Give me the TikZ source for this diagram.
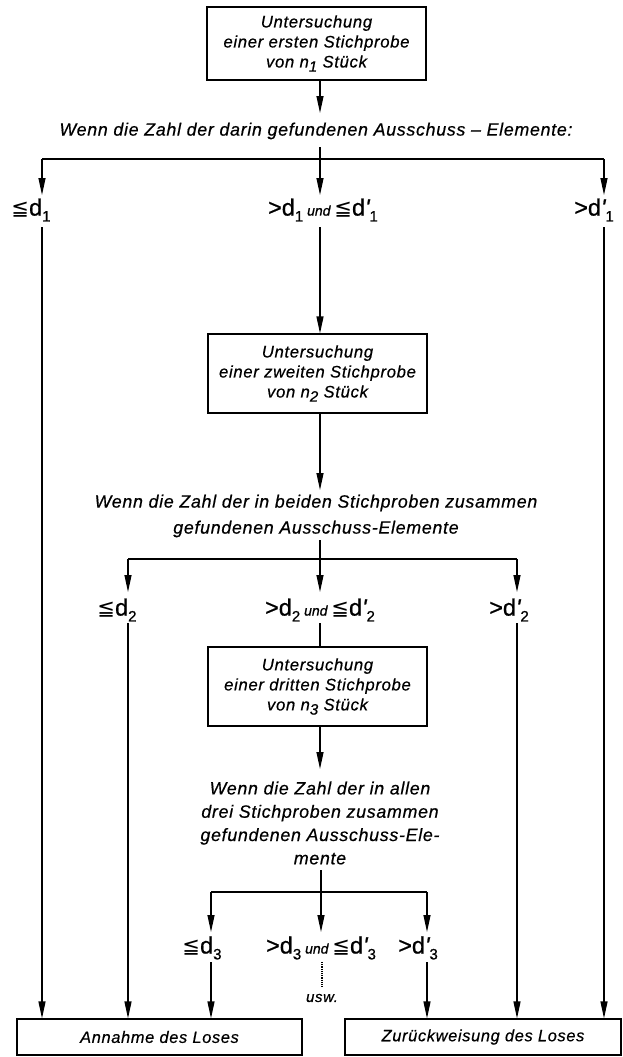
\documentclass[tikz,border=0pt]{standalone}
\usepackage{fontspec}
\usepackage{graphicx}
\setmainfont{Liberation Sans}[LetterSpace=4,FakeBold=0.5]
\newfontfamily\labf{Liberation Sans}[FakeBold=0.8]
\newfontfamily\symf{DejaVu Sans}
\usetikzlibrary{arrows.meta}
\newcommand\mysub[1]{\raisebox{-0.25em}{\fontsize{15}{15}\selectfont\labf #1}}
\newcommand\mysubp[1]{{\itshape\labf '}\raisebox{-0.25em}{\fontsize{15}{15}\selectfont\labf #1}}
\newcommand\myle{{\symf\fontsize{21}{21}\selectfont ≦}}
\newcommand\myund{\,{\fontsize{14}{14}\selectfont\itshape und}\,}
\tikzset{
  ln/.style={line width=1.2pt},
  arr/.style={ln,-{Triangle[length=17pt,width=7pt]}},
  box/.style={draw,line width=1.2pt,minimum width=219pt,minimum height=79pt,inner sep=0pt,align=center,font=\itshape\fontsize{16.7}{20}\selectfont},
  endbox/.style={draw,line width=1.2pt,minimum height=36pt,inner sep=0pt,font=\itshape\fontsize{16.4}{18}\selectfont},
  txt/.style={inner sep=0pt,align=center,font=\itshape\fontsize{17.8}{26}\selectfont},
  lab/.style={inner sep=0pt,font=\labf\fontsize{23.5}{24}\selectfont}
}
\begin{document}
\begin{tikzpicture}[x=1pt,y=-1pt]
\useasboundingbox (0,0) rectangle (623,1057);
% boxes
\node[box,minimum height=73pt] (b1) at (316.5,43.5) {Untersuchung\\einer ersten Stichprobe\\von n\mysub{1} Stück};
\node[box] (b2) at (317.5,373.5) {Untersuchung\\einer zweiten Stichprobe\\von n\mysub{2} Stück};
\node[box] (b3) at (317.5,686.5) {Untersuchung\\einer dritten Stichprobe\\von n\mysub{3} Stück};
\node[endbox,minimum width=285pt] (acc) at (159.5,1037) {Annahme des Loses};
\node[endbox,minimum width=276pt] (rej) at (483,1037) {Zurückweisung des Loses};
% question texts
\node[txt] (t1) at (316,131) {Wenn die Zahl der darin gefundenen Ausschuss – Elemente:};
\node[txt] (t2) at (316,516) {Wenn die Zahl der in beiden Stichproben zusammen\\gefundenen Ausschuss-Elemente};
\node[txt,font=\itshape\fontsize{17.8}{23.3}\selectfont] (t3) at (320,823) {Wenn die Zahl der in allen\\drei Stichproben zusammen\\gefundenen Ausschuss-Ele-\\mente};
% labels
\node[lab] (l1a) at (31,210) {\myle d\mysub{1}};
\node[lab] (l1b) at (323,210) {>d\mysub{1}\myund\myle d\mysubp{1}};
\node[lab] (l1c) at (594,210) {>d\mysubp{1}};
\node[lab] (l2a) at (117,610) {\myle d\mysub{2}};
\node[lab] (l2b) at (320,610) {>d\mysub{2}\myund\myle d\mysubp{2}};
\node[lab] (l2c) at (509,610) {>d\mysubp{2}};
\node[lab] (l3a) at (202,948) {\myle d\mysub{3}};
\node[lab] (l3b) at (321,948) {>d\mysub{3}\myund\myle d\mysubp{3}};
\node[lab] (l3c) at (418,948) {>d\mysubp{3}};
\node[inner sep=0pt,font=\itshape\fontsize{15}{15}\selectfont] (usw) at (322,998) {usw.};
% coordinates
\coordinate (c) at (320,0);
\coordinate (a0) at (320,113);
\coordinate (j1) at (320,147); \coordinate (h1) at (320,159);
\coordinate (h1l) at (42,159); \coordinate (h1r) at (604,159);
\coordinate (a1l) at (42,195); \coordinate (a1c) at (320,195); \coordinate (a1r) at (604,195);
\coordinate (s1l) at (42,227); \coordinate (s1c) at (320,227); \coordinate (s1r) at (604,227);
\coordinate (a2) at (320,490);
\coordinate (j2) at (320,540); \coordinate (h2) at (320,559);
\coordinate (h2l) at (128,559); \coordinate (h2r) at (517,559);
\coordinate (a2l) at (128,592); \coordinate (a2c) at (320,592); \coordinate (a2r) at (517,592);
\coordinate (s2l) at (128,623); \coordinate (s2c) at (320,623); \coordinate (s2r) at (517,623);
\coordinate (a3) at (320,769);
\coordinate (j3) at (321,870); \coordinate (h3) at (321,892);
\coordinate (h3l) at (211,892); \coordinate (h3r) at (427,892);
\coordinate (a3l) at (211,932); \coordinate (a3c) at (321,932); \coordinate (a3r) at (427,932);
\coordinate (s3l) at (211,962); \coordinate (s3c) at (322,962); \coordinate (s3r) at (427,962);
\coordinate (d3) at (322,987);
% level 1
\draw[arr] (b1.south -| c) -- (a0);
\draw[ln] (j1) -- (h1);
\draw[ln] (h1l) -- (h1r);
\draw[arr] (h1l) -- (a1l);
\draw[arr] (h1) -- (a1c);
\draw[arr] (h1r) -- (a1r);
\draw[arr] (s1l) -- (acc.north -| s1l);
\draw[arr] (s1r) -- (rej.north -| s1r);
\draw[arr] (s1c) -- (b2.north -| s1c);
% level 2
\draw[arr] (b2.south -| c) -- (a2);
\draw[ln] (j2) -- (h2);
\draw[ln] (h2l) -- (h2r);
\draw[arr] (h2l) -- (a2l);
\draw[arr] (h2) -- (a2c);
\draw[arr] (h2r) -- (a2r);
\draw[arr] (s2l) -- (acc.north -| s2l);
\draw[arr] (s2r) -- (rej.north -| s2r);
\draw[ln] (s2c) -- (b3.north -| s2c);
% level 3
\draw[arr] (b3.south -| c) -- (a3);
\draw[ln] (j3) -- (h3);
\draw[ln] (h3l) -- (h3r);
\draw[arr] (h3l) -- (a3l);
\draw[arr] (h3) -- (a3c);
\draw[arr] (h3r) -- (a3r);
\draw[arr] (s3l) -- (acc.north -| s3l);
\draw[arr] (s3r) -- (rej.north -| s3r);
\draw[ln,densely dotted] (s3c) -- (d3);
\end{tikzpicture}
\end{document}
